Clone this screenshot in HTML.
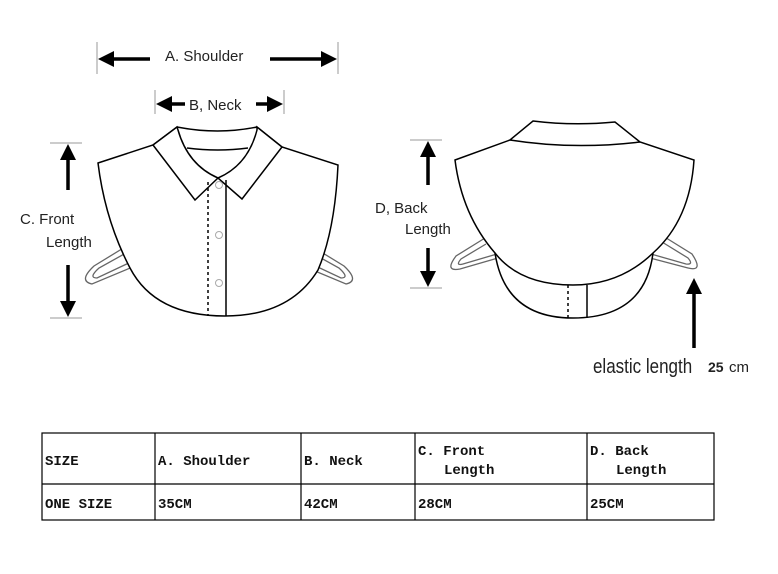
<!DOCTYPE html>
<html><head><style>
body{margin:0;background:#fff;}
svg{display:block}
.t{font-family:"Liberation Sans",sans-serif;font-size:15px;fill:#222}
.m{font-family:"Liberation Mono","DejaVu Sans Mono",monospace;font-size:14px;fill:#111;font-weight:bold}
</style></head><body>
<svg width="778" height="574" viewBox="0 0 778 574" xmlns="http://www.w3.org/2000/svg">
<g stroke="#999" stroke-width="1">
<line x1="97" y1="42" x2="97" y2="74"/><line x1="338" y1="42" x2="338" y2="74"/>
<line x1="155" y1="90" x2="155" y2="114"/><line x1="284" y1="90" x2="284" y2="114"/>
<line x1="50" y1="143" x2="82" y2="143"/><line x1="50" y1="318" x2="82" y2="318"/>
<line x1="410" y1="140" x2="442" y2="140"/><line x1="410" y1="288" x2="442" y2="288"/>
</g>
<g stroke="#000" stroke-width="3.5" fill="none">
<line x1="150" y1="59" x2="110" y2="59"/>
<line x1="270" y1="59" x2="325" y2="59"/>
<line x1="185" y1="104" x2="168" y2="104"/>
<line x1="256" y1="104" x2="271" y2="104"/>
<line x1="68" y1="190" x2="68" y2="156"/>
<line x1="68" y1="265" x2="68" y2="304"/>
<line x1="428" y1="185" x2="428" y2="153"/>
<line x1="428" y1="248" x2="428" y2="274"/>
<line x1="694" y1="348" x2="694" y2="292"/>
</g>
<g fill="#000">
<path d="M98,59 L114,51 L114,67 z"/>
<path d="M337,59 L321,51 L321,67 z"/>
<path d="M156,104 L172,96 L172,112 z"/>
<path d="M283,104 L267,96 L267,112 z"/>
<path d="M68,144 L60,160 L76,160 z"/>
<path d="M68,317 L60,301 L76,301 z"/>
<path d="M428,141 L420,157 L436,157 z"/>
<path d="M428,287 L420,271 L436,271 z"/>
<path d="M694,278 L686,294 L702,294 z"/>
</g>
<text class="t" x="165" y="61">A. Shoulder</text>
<text class="t" x="189" y="110">B, Neck</text>
<text class="t" x="20" y="224">C. Front</text>
<text class="t" x="46" y="247">Length</text>
<text class="t" x="375" y="213">D, Back</text>
<text class="t" x="405" y="234">Length</text>
<text x="593" y="373" font-family="Liberation Sans,sans-serif" font-size="20" fill="#222" transform="translate(593 0) scale(0.85 1) translate(-593 0)">elastic length</text>
<text x="708" y="372" font-family="Liberation Sans,sans-serif" font-size="14" font-weight="bold" fill="#222">25</text>
<text x="729" y="372" font-family="Liberation Sans,sans-serif" font-size="15" fill="#222">cm</text>
<g stroke="#666" stroke-width="1.3" fill="none">
<path d="M125,247 L94,266 Q78,281 92,284 L135,266"/>
<path d="M126,253 L99,268 Q88,278 97,278 L133,261"/>
<path d="M313,247 L344,266 Q360,281 346,284 L303,266"/>
<path d="M312,253 L339,268 Q350,278 341,278 L305,261"/>
<path d="M485,238 L456,256 Q444,272 460,269 L498,258"/>
<path d="M486,244 L461,259 Q455,266 463,264 L497,254"/>
<path d="M663,236 L692,254 Q704,272 688,268 L650,258"/>
<path d="M662,242 L688,258 Q694,265 686,264 L651,254"/>
</g>
<g stroke="#000" stroke-width="1.5" fill="#fff">
<path d="M98,163 L153,145 L177,127 Q218,135 257,127 L282,147 L338,165 Q335,230 318,270 Q290,316 225,316 Q155,316 130,268 Q105,220 98,163 z"/>
<path d="M153,145 L195,200 L218,178 L242,199 L282,147 L257,127 L257,130 Q248,165 218,178 Q188,165 178,130 L177,127 z"/>
<path d="M187,148 Q218,152 248,148" fill="none"/>
<line x1="226" y1="180" x2="226" y2="316"/>
<line x1="208" y1="182" x2="208" y2="316" stroke-dasharray="3,3"/>
</g>
<g stroke="#aaa" fill="#fff" stroke-width="1"><circle cx="219" cy="185" r="3.5"/><circle cx="219" cy="235" r="3.5"/><circle cx="219" cy="283" r="3.5"/></g>
<g stroke="#000" stroke-width="1.5" fill="#fff">
<path d="M495,253 Q505,318 573,318 Q645,318 653,253 z"/>
<path d="M455,160 L510,140 L533,121 Q573,126 615,122 L640,142 L694,160 Q690,220 653,253 Q620,285 573,285 Q520,285 495,253 Q462,215 455,160 z"/>
<path d="M510,140 Q573,150 640,142" fill="none"/>
<line x1="587" y1="285" x2="587" y2="318"/>
<line x1="568" y1="285" x2="568" y2="318" stroke-dasharray="3,3"/>
</g>
<g stroke="#000" stroke-width="1.2" fill="none">
<rect x="42" y="433" width="672" height="87"/>
<line x1="42" y1="484" x2="714" y2="484"/>
<line x1="155" y1="433" x2="155" y2="520"/>
<line x1="301" y1="433" x2="301" y2="520"/>
<line x1="415" y1="433" x2="415" y2="520"/>
<line x1="587" y1="433" x2="587" y2="520"/>
</g>
<text class="m" x="45" y="465">SIZE</text>
<text class="m" x="158" y="465">A. Shoulder</text>
<text class="m" x="304" y="465">B. Neck</text>
<text class="m" x="418" y="455">C. Front</text>
<text class="m" x="444" y="474">Length</text>
<text class="m" x="590" y="455">D. Back</text>
<text class="m" x="616" y="474">Length</text>
<text class="m" x="45" y="508">ONE SIZE</text>
<text class="m" x="158" y="508">35CM</text>
<text class="m" x="304" y="508">42CM</text>
<text class="m" x="418" y="508">28CM</text>
<text class="m" x="590" y="508">25CM</text>
</svg>
</body></html>
